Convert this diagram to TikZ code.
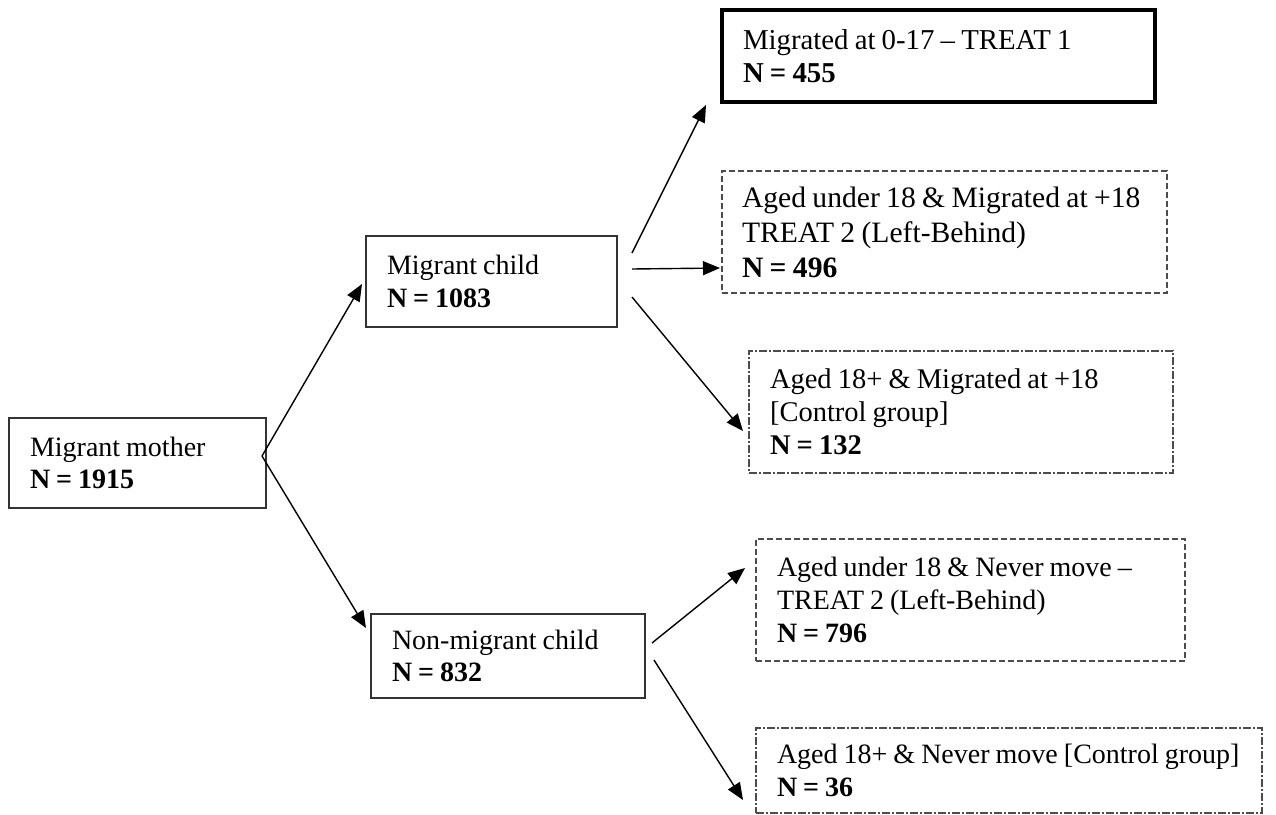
\documentclass[tikz,border=0pt]{standalone}
\usepackage{fontspec}
\setmainfont{Liberation Serif}
\usetikzlibrary{arrows.meta,calc}
\newcommand\tsp{\spaceskip=0.215em\relax\xspaceskip=0.215em\relax}
\begin{document}
\begin{tikzpicture}[x=1pt,y=-1pt,
  boxbase/.style={rectangle, anchor=north west, inner xsep=21pt, inner ysep=0pt,
    outer sep=0pt, align=left, font=\fontsize{28}{32.5}\selectfont},
  plainbox/.style={boxbase, draw=black!80, line width=1.2pt},
  thickbox/.style={boxbase, draw=black, line width=3.5pt},
  dashbox/.style={boxbase, draw=black!70, line width=1.1pt, dash pattern=on 6pt off 3pt},
  dashdotbox/.style={boxbase, draw=black!70, line width=1.1pt, dash pattern=on 8pt off 2pt on 2pt off 2pt},
  arr/.style={draw=black, line width=1.4pt, -{Triangle[length=17pt,width=14pt]}}
]
\useasboundingbox (0,0) rectangle (1276,814);

\node[plainbox, minimum width=257pt, minimum height=90pt, text width=215pt] (mother) at (9,418)
  {\tsp\mbox{Migrant mother}\\ \mbox{\textbf{N = 1915}}};
\node[plainbox, minimum width=251pt, minimum height=91pt, text width=209pt] (child) at (366,236)
  {\tsp\mbox{Migrant child}\\ \mbox{\textbf{N = 1083}}};
\node[plainbox, minimum width=274pt, minimum height=84pt, text width=232pt] (nonmig) at (371,614)
  {\tsp\mbox{Non-migrant child}\\ \mbox{\textbf{N = 832}}};

\node[thickbox, font=\fontsize{28.8}{33}\selectfont, minimum width=433pt, minimum height=92pt, text width=391pt] (t1) at (722,10)
  {\tsp\mbox{Migrated at 0-17 – TREAT 1}\\ \mbox{\textbf{N = 455}}};
\node[dashbox, font=\fontsize{29.6}{35}\selectfont, inner xsep=20pt, minimum width=445pt, minimum height=122pt, text width=405pt] (t2) at (722,171)
  {\tsp\mbox{Aged under 18 \& Migrated at +18}\\ \mbox{TREAT 2 (Left-Behind)}\\ \mbox{\textbf{N = 496}}};
\node[dashdotbox, font=\fontsize{28.5}{33}\selectfont, minimum width=424pt, minimum height=122pt, text width=382pt] (ctrl) at (749,351)
  {\tsp\mbox{Aged 18+ \& Migrated at +18}\\ \mbox{[Control group]}\\ \mbox{\textbf{N = 132}}};
\node[dashbox, font=\fontsize{28}{33}\selectfont, minimum width=429pt, minimum height=122pt, text width=387pt] (b4) at (756,539)
  {\tsp\mbox{Aged under 18 \& Never move –}\\ \mbox{TREAT 2 (Left-Behind)}\\ \mbox{\textbf{N = 796}}};
\node[dashdotbox, minimum width=506pt, minimum height=85pt, text width=464pt] (b5) at (756,728)
  {\tsp\mbox{Aged 18+ \& Never move [Control group]}\\ \mbox{\textbf{N = 36}}};

\draw[arr] ($(mother.east)+(-4,-7)$) -- ($(child.west)+(-4,2.5)$);
\draw[arr] ($(mother.east)+(-4,-7)$) -- ($(nonmig.west)+(-5,-28)$);
\draw[arr] ($(child.east)+(15,-28.5)$) -- ($(t1.south west)+(-16,3)$);
\draw[arr] ($(child.east)+(15,-12.5)$) -- ($(t2.south west)+(-2,-25)$);
\draw[arr] ($(child.east)+(15,15.5)$) -- ($(ctrl.west)+(-6,19)$);
\draw[arr] ($(nonmig.east)+(7,-13)$) -- ($(b4.west)+(-11,-32)$);
\draw[arr] ($(nonmig.east)+(9,4)$) -- ($(b5.west)+(-13,29.5)$);
\end{tikzpicture}
\end{document}
